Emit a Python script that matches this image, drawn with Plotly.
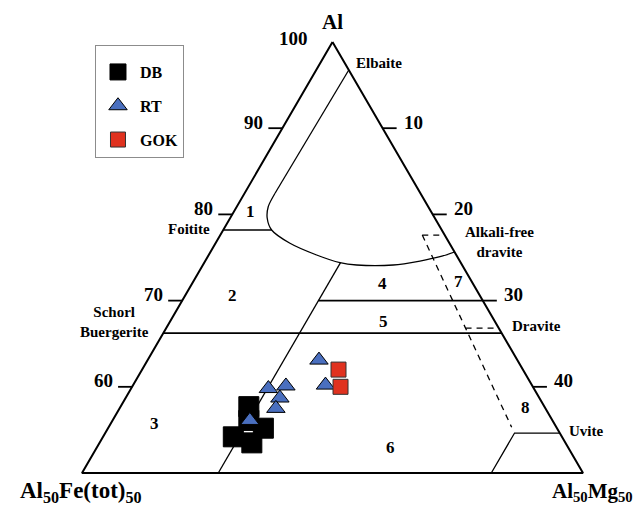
import numpy as np
import plotly.graph_objects as go

# ---------------------------------------------------------------
# Tourmaline compositions (molecular proportions, Al + Fe(tot) + Mg = 100)
# ---------------------------------------------------------------
db_al = [57.7, 56.1, 55.2, 54.2, 53.5]
db_fe = [29.5, 30.3, 29.3, 32.8, 31.3]
db_mg = [12.8, 13.6, 15.5, 13.0, 15.2]

rt_al = [63.1, 59.8, 60.1, 58.7, 57.5, 56.1, 60.2]
rt_fe = [19.8, 26.5, 24.6, 25.9, 26.9, 30.2, 20.6]
rt_mg = [17.1, 13.7, 15.3, 15.4, 15.6, 13.7, 19.2]

gok_al = [62.0, 60.0]
gok_fe = [18.4, 19.2]
gok_mg = [19.6, 20.8]

# ---------------------------------------------------------------
# Field boundaries (Al, Mg pairs; Fe is the remainder)
# ---------------------------------------------------------------
elbaite_join_al = [96.75, 82.45]
elbaite_join_mg = [3.25, 3.04]

field1_curve_al = [82.45, 80.89, 79.55, 78.19, 76.65, 75.29, 74.40, 74.13, 74.13, 74.59, 75.09, 75.64]
field1_curve_mg = [3.04, 3.14, 3.71, 4.83, 7.43, 10.77, 13.55, 15.35, 19.00, 21.43, 23.18, 24.36]

foitite_al = [78.19, 78.19]
foitite_mg = [0.0, 4.83]

fe_mg_split_al = [74.4, 50.0]
fe_mg_split_mg = [13.6, 13.6]

field4_base_al = [70.0, 70.0]
field4_base_mg = [13.6, 30.0]

schorl_dravite_al = [66.24, 66.24]
schorl_dravite_mg = [0.0, 33.76]

uvite_al = [50.0, 54.64, 54.64]
uvite_mg = [40.85, 40.85, 45.36]

# dashed boundary of fields 7 and 8 (Fe/(Fe+Mg) = 0.1) and its two end bars
dashed_ray_al = [77.6, 55.3]
dashed_ray_mg = [20.16, 40.23]
dashed_top_al = [77.6, 77.6]
dashed_top_mg = [20.16, 22.4]
dashed_drav_al = [66.8, 66.8]
dashed_drav_mg = [29.88, 33.2]

outline_al = [100, 50, 50, 100]
outline_mg = [0, 0, 50, 0]

tick_al = [60, 70, 80, 90]

# field numbers: (label, Al, Mg)
field_labels = [("1", 80.28, 1.63), ("2", 70.65, 4.74), ("3", 55.80, 4.29),
                ("4", 71.93, 19.07), ("5", 67.52, 21.28), ("6", 53.02, 29.23),
                ("7", 72.16, 26.45), ("8", 57.66, 40.48)]

SQ3 = np.sqrt(3) / 2


def to_xy(al, mg):
    al = np.asarray(al, float)
    mg = np.asarray(mg, float)
    return mg + al / 2, al * SQ3


FONT = "Liberation Serif, Times New Roman, serif"
fig = go.Figure()


def add_line(al, mg, width=1.3, dash=None, shape="linear"):
    x, y = to_xy(al, mg)
    fig.add_trace(go.Scatter(x=x, y=y, mode="lines", showlegend=False, hoverinfo="skip",
                             line=dict(color="black", width=width, dash=dash, shape=shape,
                                       smoothing=0.8)))


add_line(outline_al, outline_mg, width=2)
add_line(elbaite_join_al, elbaite_join_mg)
add_line(field1_curve_al, field1_curve_mg, shape="spline")
add_line(foitite_al, foitite_mg)
add_line(fe_mg_split_al, fe_mg_split_mg)
add_line(field4_base_al, field4_base_mg, width=1.6)
add_line(schorl_dravite_al, schorl_dravite_mg, width=1.8)
add_line(uvite_al, uvite_mg)
for a, m in [(dashed_ray_al, dashed_ray_mg), (dashed_top_al, dashed_top_mg),
             (dashed_drav_al, dashed_drav_mg)]:
    add_line(a, m, dash="6px,5px")

# outward horizontal ticks on both sides
TICK = 1.4
tx, ty = [], []
for t in tick_al:
    xl, yl = to_xy(t, 0)
    xr, yr = to_xy(t, 100 - t)
    tx += [xl - TICK, xl, None, xr, xr + TICK, None]
    ty += [yl, yl, None, yr, yr, None]
fig.add_trace(go.Scatter(x=tx, y=ty, mode="lines", showlegend=False, hoverinfo="skip",
                         line=dict(color="black", width=1.8)))

# samples
x, y = to_xy(db_al, db_mg)
fig.add_trace(go.Scatter(x=x, y=y, mode="markers", name="DB", legendgroup="DB",
                         marker=dict(symbol="square", size=20, color="black",
                                     line=dict(color="black", width=1))))
x, y = to_xy(rt_al, rt_mg)
fig.add_trace(go.Scatter(x=x, y=y, mode="markers", name="RT", legendgroup="RT",
                         marker=dict(symbol="triangle-up", size=16, color="#4a6fbf",
                                     line=dict(color="black", width=1))))
x, y = to_xy(gok_al, gok_mg)
fig.add_trace(go.Scatter(x=x, y=y, mode="markers", name="GOK", legendgroup="GOK",
                         marker=dict(symbol="square", size=15, color="#e0321f",
                                     line=dict(color="#333333", width=1))))

annotations = []


def ann(text, al, mg, xs=0, ys=0, xanchor="center", size=15, align="center"):
    x, y = to_xy(al, mg)
    annotations.append(dict(x=float(x), y=float(y), xref="x", yref="y", text=text,
                            showarrow=False, xanchor=xanchor, yanchor="middle",
                            xshift=xs, yshift=ys, align=align,
                            font=dict(family=FONT, size=size, color="black", weight="bold")))


for lab, a, m in field_labels:
    ann(lab, a, m, size=17)

for t in tick_al:
    ann(str(t), t, 0, xs=-17, ys=6, xanchor="right", size=19)
    ann(str(100 - t), t, 100 - t, xs=19, ys=6, xanchor="left", size=19)
ann("100", 100, 0, xs=-23, ys=3, xanchor="right", size=19)
ann("Al", 100, 0, ys=20, size=21)
ann("Al<sub>50</sub>Fe(tot)<sub>50</sub>", 50, 0, xs=-1, ys=-19, size=23)
ann("Al<sub>50</sub>Mg<sub>50</sub>", 50, 50, xs=9, ys=-19, size=21)

ann("Elbaite", 96.75, 3.25, xs=5, ys=7, xanchor="left")
ann("Foitite", 78.19, 0, xs=-11, ys=1, xanchor="right")
ann("Alkali-free<br>dravite", 77.6, 22.4, xs=55, ys=-7)
ann("Dravite", 66.8, 33.2, xs=11, ys=2, xanchor="left")
ann("Uvite", 54.64, 45.36, xs=7, ys=2, xanchor="left")
ann("Schorl<br>Buergerite", 66.24, 0, xs=-12, ys=11, xanchor="right")

fig.update_layout(
    width=635, height=505,
    margin=dict(l=0, r=0, t=0, b=0),
    paper_bgcolor="white", plot_bgcolor="white",
    xaxis=dict(range=[16.816, 80.19], visible=False, fixedrange=True),
    yaxis=dict(range=[40.09, 90.82], visible=False, fixedrange=True),
    annotations=annotations,
    showlegend=True,
    legend=dict(x=0.1496, y=0.911, xanchor="left", yanchor="top",
                bordercolor="#8c8c8c", borderwidth=1, bgcolor="white",
                tracegroupgap=10, itemwidth=34,
                title=dict(text=" ", font=dict(family=FONT, size=7)),
                font=dict(family=FONT, size=16, color="black", weight="bold")),
)

fig.write_html("out.html")
